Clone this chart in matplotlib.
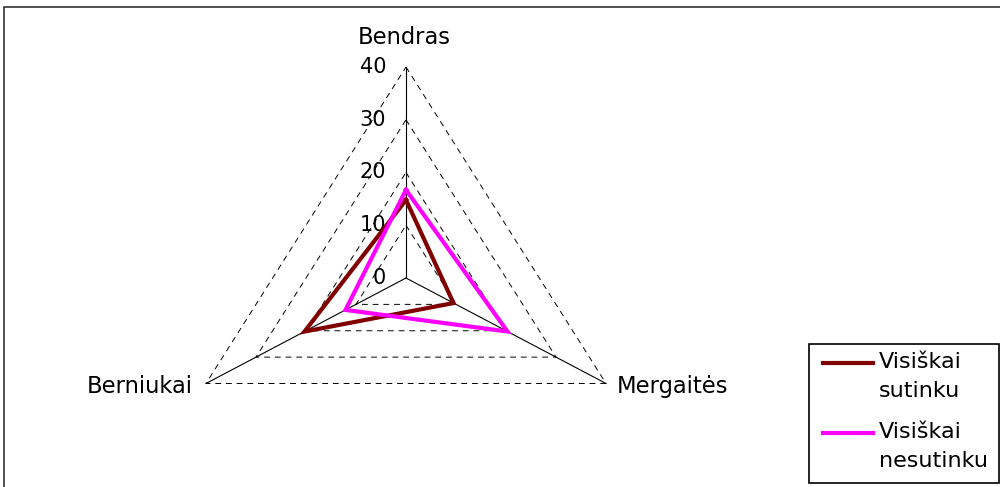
import numpy as np
import matplotlib
matplotlib.use("Agg")
import matplotlib.pyplot as plt
from matplotlib.patches import Rectangle
from matplotlib.lines import Line2D

plt.rcParams['font.family'] = ['DejaVu Sans']

# duomenys
categories = ["Bendras", "Mergaitės", "Berniukai"]
sutinku = [14.8, 9.5, 20.3]
nesutinku = [16.7, 20.3, 12.1]
levels = [0, 10, 20, 30, 40]
series_names = ["Visiškai\nsutinku", "Visiškai\nnesutinku"]
series_colors = ['#800000', '#FF00FF']

angles = np.radians([0, 120, 240])
sx, sy = np.sin(angles), np.cos(angles)

def xy(vals):
    v = np.array(list(vals) + [vals[0]], dtype=float)
    return v * np.append(sx, sx[0]), v * np.append(sy, sy[0])

W, H = 1000, 487
fig = plt.figure(figsize=(10, 4.87), dpi=100)

def fpx(x, y):
    # pikseliai -> figuros koordinates
    return x / W, 1 - y / H

# centras (406,278), kx=5.774 px/vnt, ky=5.275 px/vnt
kx, ky, cx, cy = 5.774, 5.275, 406, 278
x0, x1, y0, y1 = -45, 45, -25, 45
ax = fig.add_axes([(cx + x0 * kx) / W, (H - (cy - y0 * ky)) / H,
                   (x1 - x0) * kx / W, (y1 - y0) * ky / H])
ax.set_xlim(x0, x1)
ax.set_ylim(y0, y1)
ax.axis('off')

# tinklelis
for lv in levels[1:]:
    gx, gy = xy([lv] * 3)
    ax.plot(gx, gy, color='black', lw=0.7, dashes=(6, 5), zorder=1)
for a, b in zip(sx, sy):
    ax.plot([0, 40 * a], [0, 40 * b], color='black', lw=0.8, zorder=2)

for lv in levels:
    ax.text(-3.4, lv, str(lv), ha='right', va='center', fontsize=15, zorder=3)

for vals, c in zip([sutinku, nesutinku], series_colors):
    px, py = xy(vals)
    ax.plot(px, py, color=c, lw=3, zorder=4, solid_joinstyle='miter')

ax.text(-0.3, 45.5, categories[0], ha='center', va='center', fontsize=16.3)
ax.text(36.5, -20.6, categories[1], ha='left', va='center', fontsize=16.3)
ax.text(-36.9, -20.6, categories[2], ha='right', va='center', fontsize=16.3)

# legenda
fig.add_artist(Rectangle(fpx(809, 483), 190 / W, 139 / H,
                         transform=fig.transFigure, fill=False,
                         edgecolor='black', lw=1.2))
for i, (name, c) in enumerate(zip(series_names, series_colors)):
    ly = 363 + 70 * i
    xa, ya = fpx(823, ly)
    xb, _ = fpx(873, ly)
    fig.add_artist(Line2D([xa, xb], [ya, ya], transform=fig.transFigure,
                          color=c, lw=3))
    fig.text(*fpx(879, ly - 11), name, ha='left', va='top', fontsize=16,
             linespacing=1.55)

# remelis
fig.add_artist(Rectangle((4 / W, -0.1), 2, (H - 7) / H + 0.1,
                         transform=fig.transFigure, fill=False,
                         edgecolor='#333333', lw=1.2))

fig.savefig("out.png", dpi=100)
